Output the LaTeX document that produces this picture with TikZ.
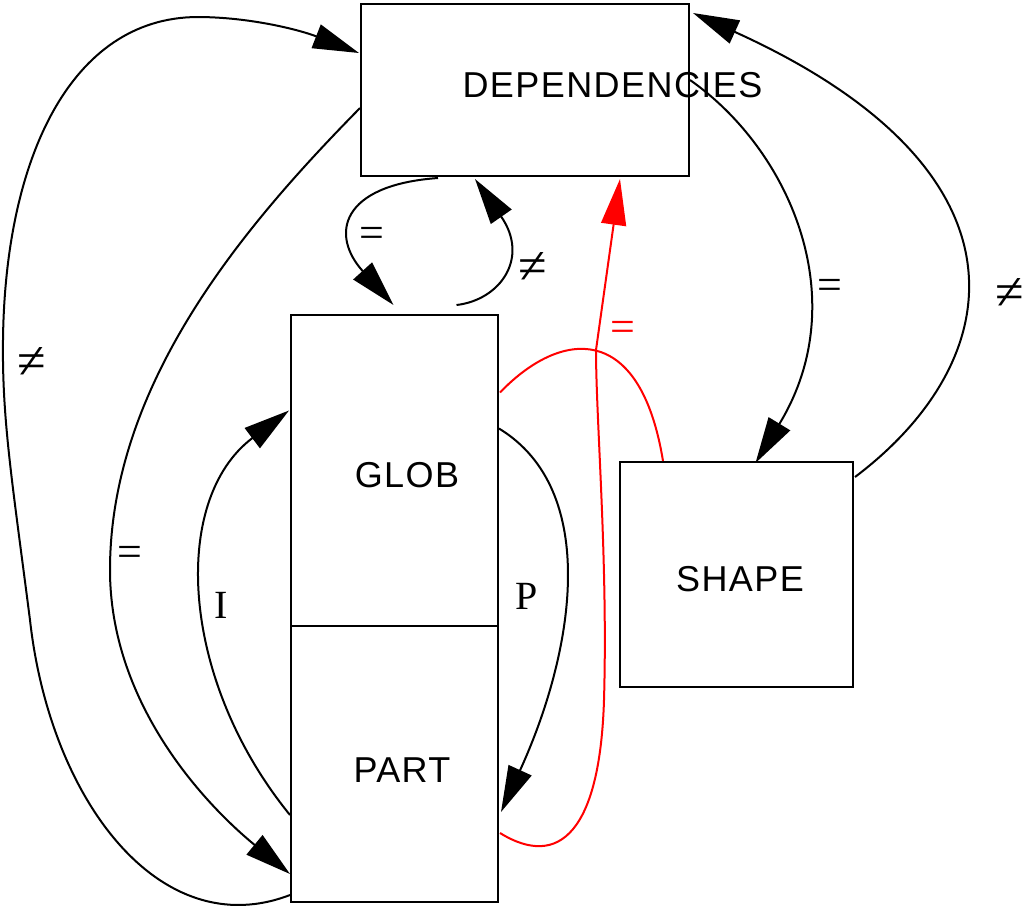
\documentclass[tikz,border=0pt]{standalone}
\usepackage{fontspec}
\setmainfont{Liberation Serif}
\setsansfont{Liberation Sans}[LetterSpace=4]
\usetikzlibrary{arrows.meta,calc}
\definecolor{edgeRed}{RGB}{255,0,0}

\begin{document}
\begin{tikzpicture}[x=0.5pt, y=-0.5pt,
  box/.style={draw=black, line width=1pt, inner sep=0pt},
  boxtext/.style={font=\sffamily\fontsize{18}{20}\selectfont, inner sep=0pt},
  edgetext/.style={font=\fontsize{20}{22}\selectfont, inner sep=0pt},
  eqtext/.style={font=\fontsize{22}{24}\selectfont, inner sep=0pt},
  netext/.style={font=\fontsize{26}{28}\selectfont, inner sep=0pt},
  arr/.style={-{Triangle[length=23pt,width=12.5pt]}, line width=1pt},
  redarr/.style={arr, draw=edgeRed},
  redline/.style={line width=1pt, draw=edgeRed}
]
\useasboundingbox (0,0) rectangle (1028,917);

% boxes
\node[box, minimum width=164pt, minimum height=86pt] (deps) at (525,90) {};
\node[boxtext] (depsText) at (612.5,85.5) {DEPENDENCIES};
\node[box, minimum width=103.5pt, minimum height=155.5pt] (glob) at (394.5,470.5) {};
\node[boxtext] (globText) at (407,475) {GLOB};
\node[box, minimum width=103.5pt, minimum height=138pt] (part) at (394.5,764) {};
\node[boxtext] (partText) at (402,770) {PART};
\node[box, minimum width=116.5pt, minimum height=112.5pt] (shapebox) at (736.5,574.5) {};
\node[boxtext] (shapeText) at (740,579) {SHAPE};

% edges
\draw[arr] ($(deps.south)+(-87,1)$) .. controls (340,185) and (330,235) .. ($(glob.north)+(-1,-9)$);
\node[eqtext] (eqA) at (372,237) {=};
\draw[arr] ($(glob.north)+(62,-9)$) .. controls (500,300) and (530,258) .. ($(deps.south)+(-50,2)$);
\node[netext] (neB) at (533,268) {≠};

\draw[arr] ($(deps.west)+(0,18)$) .. controls (250,220) and (110,380) .. (110,570)
  .. controls (110,700) and (200,800) .. ($(part.west)+(0,110)$);
\node[eqtext] (eqC) at (130,556) {=};
\draw[arr] ($(part.west)+(0,131)$) .. controls (160,945) and (50,800) .. (30,620)
  .. controls (12,480) and (2,420) .. (3,340)
  .. controls (5,160) and (70,18) .. (197,17)
  .. controls (250,17) and (300,30) .. ($(deps.west)+(-1,-37)$);
\node[netext] (neD) at (32,363) {≠};

\draw[arr] ($(deps.east)+(0,-10)$) .. controls (790,150) and (855,300) .. ($(shapebox.north)+(19,2)$);
\node[eqtext] (eqE) at (830,289) {=};
\draw[arr] ($(shapebox.north east)+(1,16)$) .. controls (1010,360) and (1040,170) .. ($(deps.north east)+(3,10)$);
\node[netext] (neF) at (1010,294) {≠};

\draw[arr] ($(glob.east)+(0,-42)$) .. controls (600,490) and (575,650) .. ($(part.east)+(2,48)$);
\node[edgetext] (labP) at (527,596) {P};
\draw[arr] ($(part.west)+(0,51)$) .. controls (180,680) and (170,500) .. ($(glob.west)+(-1,-60)$);
\node[edgetext] (labI) at (221,605) {I};

% red edges
\draw[redarr] ($(part.east)+(1,69)$) .. controls (560,870) and (600,830) .. (604,700)
  .. controls (608,560) and (596,420) .. (596,350) -- ($(deps.south)+(95,2)$);
\draw[redline] ($(glob.east)+(1,-78)$) .. controls (560,330) and (640,320) .. ($(shapebox.north)+(-73.5,0)$);
\node[eqtext, text=edgeRed] (eqRed) at (623,331) {=};
\end{tikzpicture}
\end{document}
